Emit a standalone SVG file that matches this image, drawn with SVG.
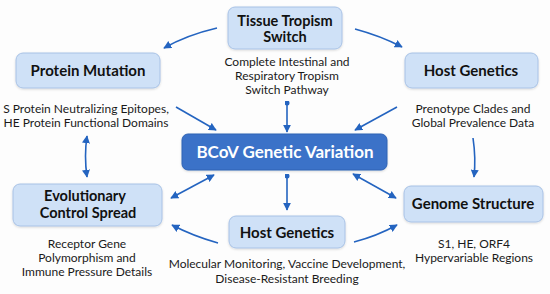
<svg xmlns="http://www.w3.org/2000/svg" width="550" height="294" viewBox="0 0 550 294">
<defs>
<marker id="ah" viewBox="0 0 10 10" refX="9" refY="5" markerWidth="8" markerHeight="8" markerUnits="userSpaceOnUse" orient="auto-start-reverse">
<path d="M0,0 L10,5 L0,10 z" fill="#2464c0"/>
</marker>
<marker id="dot" viewBox="0 0 10 10" refX="5" refY="5" markerWidth="5" markerHeight="5" markerUnits="userSpaceOnUse">
<circle cx="5" cy="5" r="5" fill="#2464c0"/>
</marker>
<filter id="sh" x="-10%" y="-20%" width="120%" height="150%">
<feDropShadow dx="0" dy="1" stdDeviation="1" flood-color="#000" flood-opacity="0.15"/>
</filter>
</defs>
<style>
.box{fill:#cfe1f7;stroke:#a8c2e6;stroke-width:1}
.main{fill:#3a72c8;stroke:#2e62b4;stroke-width:1}
.t{font-family:Lato,"Liberation Sans",sans-serif;font-weight:bold;font-size:15px;fill:#111;text-anchor:middle}
.t2{font-size:14.5px}
.d{font-family:Lato,"Liberation Sans",sans-serif;font-size:12px;fill:#1a1a1a;text-anchor:middle}
.m{font-family:Lato,"Liberation Sans",sans-serif;font-weight:bold;font-size:17px;fill:#fff;text-anchor:middle}
.c{fill:none;stroke:#2464c0;stroke-width:1.6}
</style>
<rect width="550" height="294" fill="#fdfdfd"/>
<g id="tissue">
<rect class="box" x="228" y="7" width="114" height="42" rx="7" filter="url(#sh)"/>
<text class="t t2" x="285" y="25.5">Tissue Tropism</text>
<text class="t t2" x="285" y="42">Switch</text>
<text class="d" x="287" y="66">Complete Intestinal and</text>
<text class="d" x="287" y="80">Respiratory Tropism</text>
<text class="d" x="287" y="94">Switch Pathway</text>
</g>
<g id="protein">
<rect class="box" x="16" y="53" width="144" height="35" rx="7" filter="url(#sh)"/>
<text class="t" x="88" y="76">Protein Mutation</text>
<text class="d" x="86" y="113">S Protein Neutralizing Epitopes,</text>
<text class="d" x="86" y="127">HE Protein Functional Domains</text>
</g>
<g id="hostTop">
<rect class="box" x="405" y="53" width="133" height="35" rx="7" filter="url(#sh)"/>
<text class="t" x="471" y="76">Host Genetics</text>
<text class="d" x="473" y="113">Prenotype Clades and</text>
<text class="d" x="473" y="127">Global Prevalence Data</text>
</g>
<g id="bcov">
<rect class="main" x="182" y="134" width="205" height="36" rx="6" filter="url(#sh)"/>
<text class="m" x="285" y="158">BCoV Genetic Variation</text>
</g>
<g id="evo">
<rect class="box" x="13" y="184" width="149" height="42" rx="7" filter="url(#sh)"/>
<text class="t t2" x="85" y="201">Evolutionary</text>
<text class="t t2" x="88" y="218">Control Spread</text>
<text class="d" x="87" y="248">Receptor Gene</text>
<text class="d" x="87" y="262">Polymorphism and</text>
<text class="d" x="87" y="276">Immune Pressure Details</text>
</g>
<g id="hostBottom">
<rect class="box" x="229" y="216" width="116" height="32" rx="7" filter="url(#sh)"/>
<text class="t" x="287" y="238">Host Genetics</text>
<text class="d" x="287" y="268">Molecular Monitoring, Vaccine Development,</text>
<text class="d" x="287" y="283">Disease-Resistant Breeding</text>
</g>
<g id="genome">
<rect class="box" x="404" y="186" width="139" height="36" rx="7" filter="url(#sh)"/>
<text class="t" x="473" y="209">Genome Structure</text>
<text class="d" x="474" y="248">S1, HE, ORF4</text>
<text class="d" x="474" y="262">Hypervariable Regions</text>
</g>
<g id="connectors">
<path class="c" d="M217,28 Q187,35 164,48" marker-end="url(#ah)"/>
<path class="c" d="M355,29 Q381,36 402,47" marker-end="url(#ah)"/>
<path class="c" d="M176,107 L216,130" marker-end="url(#ah)"/>
<path class="c" d="M287,103 L287,132" marker-start="url(#dot)" marker-end="url(#ah)"/>
<path class="c" d="M397,107 L355,130" marker-end="url(#ah)"/>
<path class="c" d="M87,136 Q84,156 87,177" marker-start="url(#ah)" marker-end="url(#ah)"/>
<path class="c" d="M473,138 Q476,158 474,177" marker-end="url(#ah)"/>
<path class="c" d="M214,175 L171,198" marker-start="url(#ah)" marker-end="url(#ah)"/>
<path class="c" d="M287,176 L287,210" marker-start="url(#dot)" marker-end="url(#ah)"/>
<path class="c" d="M353,174 L396,198" marker-start="url(#ah)" marker-end="url(#ah)"/>
<path class="c" d="M218,243 Q193,236 172,225" marker-end="url(#ah)"/>
<path class="c" d="M354,242 Q377,236 397,225" marker-end="url(#ah)"/>
</g>
</svg>
